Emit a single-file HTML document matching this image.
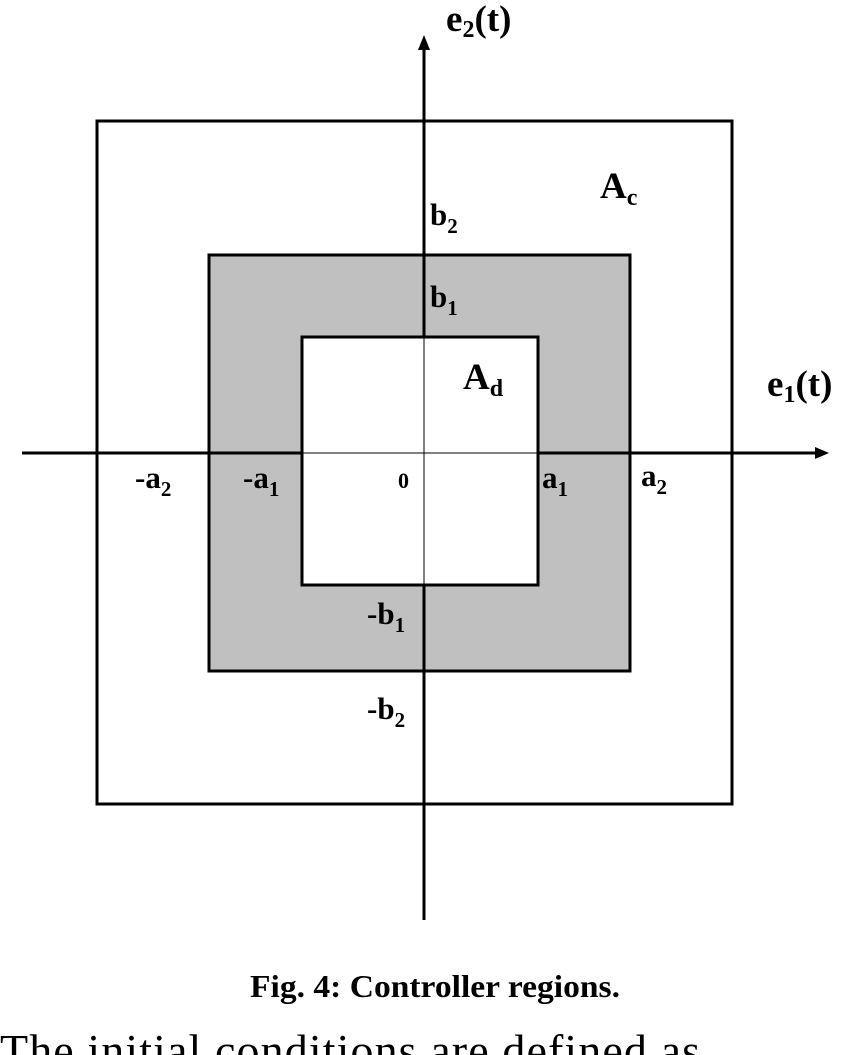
<!DOCTYPE html>
<html><head><meta charset="utf-8"><style>
html,body{margin:0;padding:0;background:#fff;width:867px;height:1055px;overflow:hidden}
svg{display:block}
text{font-family:"Liberation Serif",serif;font-weight:bold;fill:#000}
</style></head><body>
<svg width="867" height="1055" viewBox="0 0 867 1055">
<rect x="97" y="121" width="635" height="683" fill="none" stroke="#000" stroke-width="3"/>
<rect x="209" y="255" width="421" height="416" fill="#c0c0c0" stroke="#000" stroke-width="3"/>
<rect x="302" y="337" width="236" height="248" fill="#fff" stroke="#000" stroke-width="3"/>
<line x1="22" y1="453" x2="302" y2="453" stroke="#000" stroke-width="3"/>
<line x1="302" y1="453" x2="538" y2="453" stroke="#000" stroke-width="1"/>
<line x1="538" y1="453" x2="818" y2="453" stroke="#000" stroke-width="3"/>
<polygon points="829,453 815,447 815,459" fill="#000"/>
<line x1="424" y1="920" x2="424" y2="585" stroke="#000" stroke-width="3"/>
<line x1="424" y1="585" x2="424" y2="337" stroke="#000" stroke-width="1"/>
<line x1="424" y1="337" x2="424" y2="48" stroke="#000" stroke-width="3"/>
<polygon points="424,35 418,50 430,50" fill="#000"/>
<g font-size="37">
<text x="446" y="31">e<tspan font-size="24" dy="6">2</tspan><tspan dy="-6">(t)</tspan></text>
<text x="767" y="396">e<tspan font-size="24" dy="6">1</tspan><tspan dy="-6">(t)</tspan></text>
<text x="600" y="198">A<tspan font-size="24" dy="7">c</tspan></text>
<text x="463" y="389">A<tspan font-size="24" dy="7">d</tspan></text>
</g>
<g font-size="31">
<text x="430" y="225">b<tspan font-size="21" dy="8">2</tspan></text>
<text x="430" y="307">b<tspan font-size="21" dy="8">1</tspan></text>
<text x="542" y="488">a<tspan font-size="21" dy="8">1</tspan></text>
<text x="641" y="486">a<tspan font-size="21" dy="8">2</tspan></text>
<text x="135" y="488">-a<tspan font-size="21" dy="8">2</tspan></text>
<text x="243" y="488">-a<tspan font-size="21" dy="8">1</tspan></text>
<text x="398" y="488" font-size="22">0</text>
<text x="367" y="624">-b<tspan font-size="21" dy="8">1</tspan></text>
<text x="367" y="719">-b<tspan font-size="21" dy="8">2</tspan></text>
</g>
<text x="250" y="997" font-size="32" textLength="370" lengthAdjust="spacingAndGlyphs">Fig. 4: Controller regions.</text>
<text x="0" y="1066" font-size="46" style="font-weight:normal" textLength="700" lengthAdjust="spacing">The initial conditions are defined as</text>
</svg>
</body></html>
